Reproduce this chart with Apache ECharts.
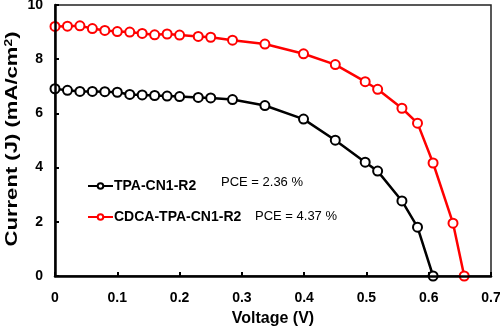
<!DOCTYPE html>
<html>
<head>
<meta charset="utf-8">
<script src="https://cdn.jsdelivr.net/npm/echarts@6/dist/echarts.min.js"></script>
<style>
  html, body { margin: 0; padding: 0; background: #fff; }
  #chart { width: 500px; height: 334px; }
</style>
</head>
<body>
<div id="chart"></div>
<script>
// J–V curves of the two cells
const seriesNames = ['TPA-CN1-R2', 'CDCA-TPA-CN1-R2'];
const pceLabels = ['PCE = 2.36 %', 'PCE = 4.37 %'];
const xTitle = 'Voltage (V)';
const yTitle = 'Current (J) (mA/cm{sup|2})';

const voltageA = [0, 0.02, 0.04, 0.06, 0.08, 0.10, 0.12, 0.14, 0.16, 0.18, 0.20, 0.23, 0.25, 0.285,
                  0.337, 0.399, 0.45, 0.498, 0.518, 0.557, 0.582, 0.607];
const currentA = [6.91, 6.85, 6.81, 6.81, 6.80, 6.78, 6.70, 6.68, 6.66, 6.64, 6.62, 6.59, 6.57, 6.51,
                  6.29, 5.79, 5.01, 4.20, 3.87, 2.77, 1.80, 0];

const voltageB = [0, 0.02, 0.04, 0.06, 0.08, 0.10, 0.12, 0.14, 0.16, 0.18, 0.20, 0.23, 0.25, 0.285,
                  0.337, 0.399, 0.45, 0.498, 0.518, 0.557, 0.582, 0.607, 0.639, 0.657];
const currentB = [9.21, 9.22, 9.23, 9.13, 9.06, 9.02, 9.00, 8.95, 8.90, 8.93, 8.89, 8.84, 8.81, 8.70,
                  8.56, 8.20, 7.80, 7.17, 6.89, 6.19, 5.64, 4.17, 1.95, 0];

const xTicks = { min: 0, max: 0.7, interval: 0.1 };
const yTicks = { min: 0, max: 10, interval: 2 };

const pairs = (xs, ys) => xs.map((x, i) => [x, ys[i]]);

const chart = echarts.init(document.getElementById('chart'), null, { renderer: 'canvas' });
const font = 'Arial, "Liberation Sans", sans-serif';

function makeSeries(name, data, color) {
  return {
    name: name,
    type: 'line',
    data: data,
    symbol: 'emptyCircle',
    symbolSize: 9,
    showSymbol: true,
    showAllSymbol: true,
    color: color,
    lineStyle: { color: color, width: 2.5 },
    itemStyle: { color: color, borderColor: color, borderWidth: 1.3 },
    emphasis: { disabled: true },
    animation: false,
    z: 3
  };
}

chart.setOption({
  animation: false,
  backgroundColor: '#fff',
  grid: {
    left: 55, right: 9, top: 5, bottom: 58,
    containLabel: false,
    outerBoundsMode: 'none',
    show: true, borderColor: '#222', borderWidth: 1.5, backgroundColor: 'transparent'
  },
  legend: {
    orient: 'vertical',
    left: 87, top: 179,
    padding: 0,
    itemWidth: 25, itemHeight: 7, itemGap: 17,
    data: seriesNames,
    lineStyle: { width: 2 },
    itemStyle: { borderWidth: 1.2 },
    textStyle: { fontFamily: font, fontWeight: 'bold', fontSize: 14, color: '#000', padding: [0, 0, 0, -4] },
    selectedMode: false
  },
  xAxis: {
    type: 'value',
    min: xTicks.min, max: xTicks.max, interval: xTicks.interval,
    name: xTitle,
    nameLocation: 'middle', nameGap: 35,
    nameTextStyle: { fontFamily: font, fontWeight: 'bold', fontSize: 16, color: '#000' },
    axisLine: { show: true, onZero: false, lineStyle: { color: '#000', width: 2.5 } },
    axisTick: { show: true, inside: true, length: 4, lineStyle: { color: '#000', width: 2 } },
    axisLabel: {
      fontFamily: font, fontWeight: 'bold', fontSize: 14, color: '#000', margin: 15,
      formatter: v => (v === 0 ? '0' : v.toFixed(1))
    },
    splitLine: { show: false },
    z: 5
  },
  yAxis: {
    type: 'value',
    min: yTicks.min, max: yTicks.max, interval: yTicks.interval,
    axisLine: { show: true, onZero: false, lineStyle: { color: '#000', width: 2.5 } },
    axisTick: { show: true, inside: true, length: 4, lineStyle: { color: '#000', width: 2 } },
    axisLabel: { fontFamily: font, fontWeight: 'bold', fontSize: 14, color: '#000', margin: 12 },
    splitLine: { show: false },
    z: 5
  },
  graphic: [
    {
      // vertical axis title, stretched along its run
      type: 'text', x: 13, y: 139, rotation: Math.PI / 2, scaleX: 1.38, scaleY: 1,
      style: {
        text: yTitle, font: 'bold 16px ' + font, fill: '#000',
        align: 'center', verticalAlign: 'middle',
        rich: { sup: { font: 'bold 10px ' + font, fill: '#000', verticalAlign: 'top', padding: [0, 0, 8, 0] } }
      }
    },
    { type: 'text', left: 221, top: 176, style: { text: pceLabels[0], font: '13px ' + font, fill: '#000' } },
    { type: 'text', left: 255, top: 210, style: { text: pceLabels[1], font: '13px ' + font, fill: '#000' } }
  ],
  series: [
    makeSeries(seriesNames[0], pairs(voltageA, currentA), '#000'),
    makeSeries(seriesNames[1], pairs(voltageB, currentB), '#ff0000')
  ]
});
</script>
</body>
</html>
